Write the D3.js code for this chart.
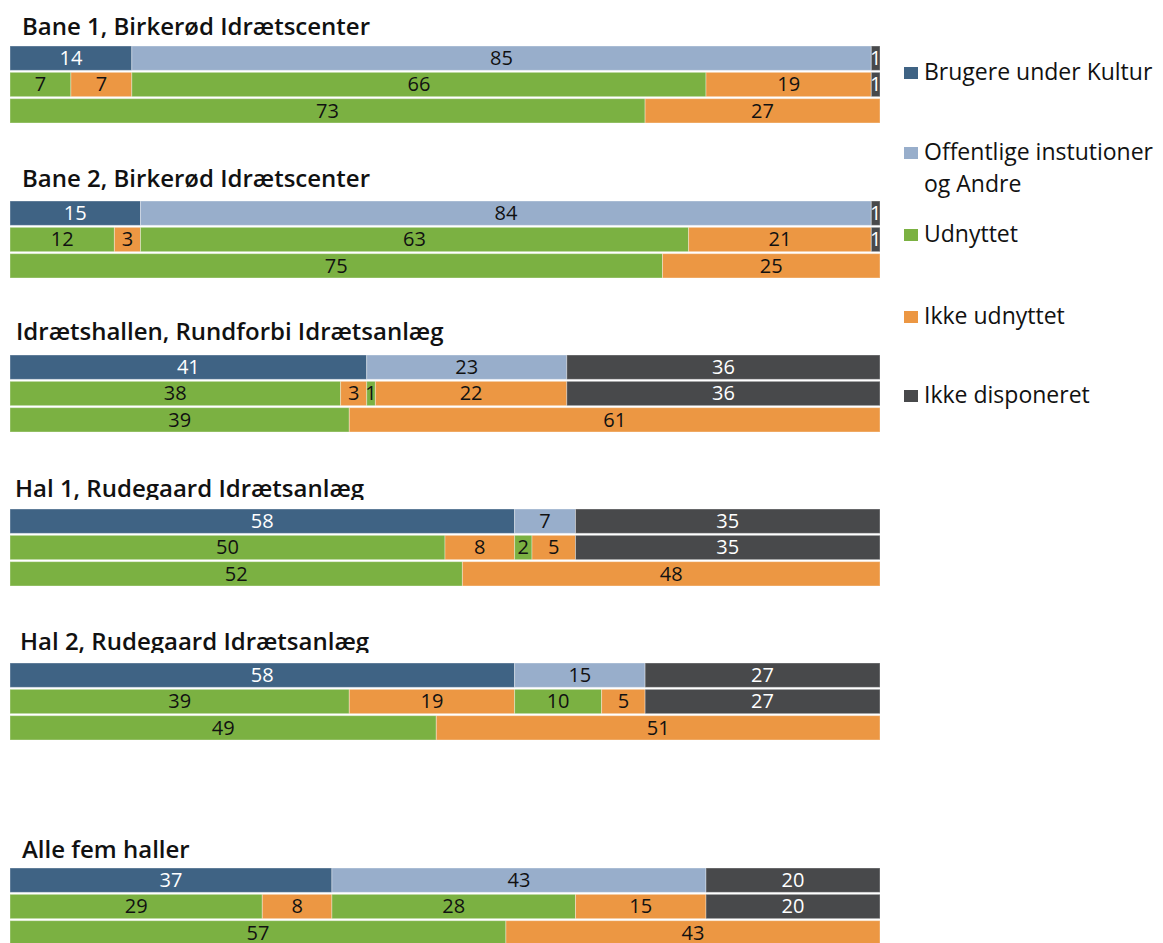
<!DOCTYPE html>
<meta charset="utf-8">
<style>
  body { margin: 0; background: #fff; }
  text { font-family: "Open Sans", Lato, sans-serif; }
</style>
<svg width="1163" height="943"></svg>
<script src="https://d3js.org/d3.v7.min.js"></script>
<script>

// halls
var halls = [
  "Bane 1, Birkerød Idrætscenter",
  "Bane 2, Birkerød Idrætscenter",
  "Idrætshallen, Rundforbi Idrætsanlæg",
  "Hal 1, Rudegaard Idrætsanlæg",
  "Hal 2, Rudegaard Idrætsanlæg",
  "Alle fem haller"
];

// row 1: who has the hours
var brugere         = [14, 15, 41, 58, 58, 37];
var offentlige      = [85, 84, 23,  7, 15, 43];
var ikkeDisponeret  = [ 1,  1, 36, 35, 27, 20];

// row 2: used / not used, split by user group
var brugereUdnyttet       = [ 7, 12, 38, 50, 39, 29];
var brugereIkkeUdnyttet   = [ 7,  3,  3,  8, 19,  8];
var offentligeUdnyttet    = [66, 63,  1,  2, 10, 28];
var offentligeIkkeUdnyttet= [19, 21, 22,  5,  5, 15];

// row 3: totals
var totalUdnyttet     = [73, 75, 39, 52, 49, 57];
var totalIkkeUdnyttet = [27, 25, 61, 48, 51, 43];

var legendLabels = ["Brugere under Kultur", "Offentlige instutioner\nog Andre", "Udnyttet", "Ikke udnyttet", "Ikke disponeret"];
var colors = {
  brugere: "#3f6384",
  offentlige: "#98aecb",
  udnyttet: "#7bb142",
  ikkeUdnyttet: "#ec9743",
  ikkeDisponeret: "#48494b"
};

// layout
var groupTop = [46, 201, 355, 509, 663, 868],
    titleX = [22, 22, 16, 15, 20, 22],
    titleY = [35, 187, 340, 497, 650, 858],
    titleClip = [false, false, false, true, true, false];

var svg = d3.select("svg");

var x = d3.scaleLinear().domain([0, 100]).range([10, 880]);
var row = d3.scaleBand().domain([0, 1, 2]).range([0, 77]).paddingInner(0.075);

var table = halls.map(function(h, i) {
  return {
    hall: h,
    b: brugere[i], o: offentlige[i], d1: ikkeDisponeret[i],
    bu: brugereUdnyttet[i], bi: brugereIkkeUdnyttet[i],
    ou: offentligeUdnyttet[i], oi: offentligeIkkeUdnyttet[i], d2: ikkeDisponeret[i],
    tu: totalUdnyttet[i], ti: totalIkkeUdnyttet[i]
  };
});

var rows = [
  { keys: ["b", "o", "d1"], fill: [colors.brugere, colors.offentlige, colors.ikkeDisponeret] },
  { keys: ["bu", "bi", "ou", "oi", "d2"], fill: [colors.udnyttet, colors.ikkeUdnyttet, colors.udnyttet, colors.ikkeUdnyttet, colors.ikkeDisponeret] },
  { keys: ["tu", "ti"], fill: [colors.udnyttet, colors.ikkeUdnyttet] }
];

var defs = svg.append("defs");

var group = svg.selectAll("g.hall")
  .data(table)
  .join("g")
    .attr("class", "hall");

group.each(function(d, i) {
  var g = d3.select(this);

  var title = g.append("text")
      .attr("x", titleX[i])
      .attr("y", titleY[i])
      .attr("font-size", 24)
      .attr("font-weight", 600)
      .attr("fill", "#111")
      .text(d.hall);

  if (titleClip[i]) {
    defs.append("clipPath").attr("id", "clip" + i)
      .append("rect")
        .attr("x", 0).attr("y", titleY[i] - 30)
        .attr("width", 600).attr("height", 33);
    title.attr("clip-path", "url(#clip" + i + ")");
  }

  rows.forEach(function(r, ri) {
    var series = d3.stack().keys(r.keys)([d]);
    var y0 = groupTop[i] + row(ri);

    var seg = g.append("g").selectAll("g")
      .data(series)
      .join("g");

    seg.append("rect")
        .attr("x", function(s) { return x(s[0][0]); })
        .attr("y", y0)
        .attr("width", function(s) { return x(s[0][1]) - x(s[0][0]); })
        .attr("height", row.bandwidth())
        .attr("fill", function(s, k) { return r.fill[k]; })
        .attr("stroke", "#fff")
        .attr("stroke-opacity", 0.35)
        .attr("stroke-width", 1);

    seg.append("text")
        .attr("x", function(s) { return (x(s[0][0]) + x(s[0][1])) / 2; })
        .attr("y", y0 + 19)
        .attr("text-anchor", "middle")
        .attr("font-size", 20)
        .attr("fill", function(s, k) {
          var c = r.fill[k];
          return (c === colors.brugere || c === colors.ikkeDisponeret) ? "#fff" : "#111";
        })
        .text(function(s) { return s[0][1] - s[0][0]; });
  });
});

// legend
var legendY = [73, 153, 235, 317, 396];
var legendFill = [colors.brugere, colors.offentlige, colors.udnyttet, colors.ikkeUdnyttet, colors.ikkeDisponeret];

var legend = svg.append("g").selectAll("g")
  .data(legendLabels)
  .join("g")
    .attr("transform", function(d, i) { return "translate(904," + legendY[i] + ")"; });

legend.append("rect")
    .attr("x", 0)
    .attr("y", -6)
    .attr("width", 14)
    .attr("height", 12)
    .attr("fill", function(d, i) { return legendFill[i]; });

legend.append("text")
    .attr("x", 20)
    .attr("font-size", 23)
    .attr("fill", "#111")
    .selectAll("tspan")
    .data(function(d) { return d.split("\n"); })
    .join("tspan")
      .attr("x", 20)
      .attr("y", function(t, k) { return 7 + k * 32; })
      .text(function(t) { return t; });

</script>
